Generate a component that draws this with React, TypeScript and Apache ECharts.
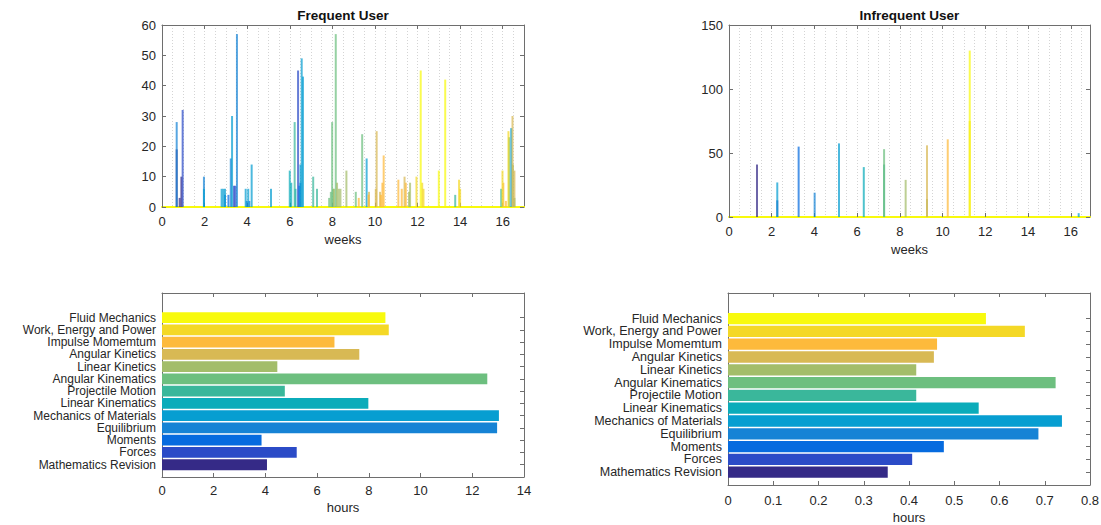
import React, { useEffect, useRef } from "react";
import * as echarts from "echarts";

// ---------- DATA ----------
const topics = [
  "Mathematics Revision",
  "Forces",
  "Moments",
  "Equilibrium",
  "Mechanics of Materials",
  "Linear Kinematics",
  "Projectile Motion",
  "Angular Kinematics",
  "Linear Kinetics",
  "Angular Kinetics",
  "Impulse Momemtum",
  "Work, Energy and Power",
  "Fluid Mechanics",
];

const topicColors = [
  "#352A87", "#2B4BC7", "#066BDF", "#1683D5", "#079ED1", "#0BACBA", "#3AB79B",
  "#6DBF7F", "#A3BD6A", "#D8B954", "#FDBA3C", "#F4D826", "#F8FA0D",
];

// hours per topic (bottom panels)
const hoursFrequent = [4.06, 5.21, 3.85, 12.96, 13.03, 7.98, 4.75, 12.58, 4.46, 7.63, 6.67, 8.77, 8.64];
const hoursInfrequent = [0.353, 0.407, 0.477, 0.686, 0.738, 0.554, 0.416, 0.724, 0.416, 0.455, 0.462, 0.656, 0.57];

// [week, count] pairs per topic, Frequent User
const freqMath = [[0.69, 19], [0.83, 3], [0.91, 10]];
const freqForces = [[0.97, 32], [3.38, 7], [3.45, 7], [6.39, 45]];
const freqMoments = [[2.96, 4], [3.12, 4], [3.98, 2], [4.1, 2], [6.45, 7], [6.5, 8]];
const freqEquilibrium = [[0.69, 28], [1.97, 10], [3.23, 16], [3.52, 57]];
const freqMechanics = [[1.97, 6], [2.8, 6], [2.88, 6], [2.96, 6], [3.29, 30], [3.93, 6], [4.05, 6], [4.21, 14], [5.12, 6], [6.5, 14], [6.56, 49], [6.62, 43], [9.61, 16], [16.4, 26]];
const freqLinKinematics = [[6.0, 12], [6.07, 8], [6.27, 6]];
const freqProjectile = [[6.23, 28], [7.1, 10], [7.28, 6], [13.77, 4], [15.93, 6]];
const freqAngKinematics = [[7.85, 3], [7.93, 5], [7.99, 28], [8.04, 6], [8.16, 57], [9.1, 5], [9.4, 24], [16.3, 23], [16.55, 3]];
const freqLinKinetics = [[8.08, 6], [8.22, 8], [8.3, 6], [8.38, 6], [8.66, 12], [11.6, 5], [11.65, 8], [16.48, 14]];
const freqAngKinetics = [[9.72, 5], [10.04, 6], [10.08, 25], [10.24, 5], [11.39, 10], [16.46, 30], [16.55, 12]];
const freqImpulse = [[9.24, 3], [9.7, 4], [10.28, 4], [10.35, 8], [10.41, 17], [11.1, 9], [11.26, 6], [11.45, 8], [16.03, 8], [16.15, 2]];
const freqWork = [[11.95, 10], [12.22, 8], [12.28, 6], [13.95, 9], [14.0, 6], [15.99, 12], [16.27, 25]];
const freqFluid = [[12.15, 45], [13.0, 12], [13.3, 42]];

// [week, count] pairs per topic, Infrequent User
const infMath = [[1.31, 41]];
const infForces = [[2.26, 13]];
const infMoments = [[3.26, 55]];
const infEquilibrium = [[4.01, 19]];
const infMechanics = [[2.26, 27], [5.15, 57.5], [16.37, 3]];
const infLinKinematics = [[6.31, 39]];
const infProjectile = [[7.26, 41]];
const infAngKinematics = [[7.26, 53]];
const infLinKinetics = [[8.27, 29], [9.27, 14]];
const infAngKinetics = [[9.27, 56]];
const infImpulse = [[10.24, 60.7]];
const infWork = [[11.27, 75]];
const infFluid = [[11.27, 130]];

const freqSeries = [freqMath, freqForces, freqMoments, freqEquilibrium, freqMechanics, freqLinKinematics, freqProjectile, freqAngKinematics, freqLinKinetics, freqAngKinetics, freqImpulse, freqWork, freqFluid];
const infSeries = [infMath, infForces, infMoments, infEquilibrium, infMechanics, infLinKinematics, infProjectile, infAngKinematics, infLinKinetics, infAngKinetics, infImpulse, infWork, infFluid];

// category slots: 0 blank, 1..13 topics, 14..15 blank (ylim 0..15)
const categorySlots = ["", ...topics, "", ""];

// ---------- STYLE ----------
const FONT = "'Liberation Sans', Arial, Helvetica, sans-serif";
const TXT = "#262626";
const LINE = "#6e6e6e";

const grids = [
  { left: 162, top: 25, width: 362, height: 182 },
  { left: 729, top: 25, width: 361, height: 192 },
  { left: 162, top: 293, width: 362, height: 184 },
  { left: 728, top: 293, width: 362, height: 192 },
];

function hiddenLabel() {
  return { show: false };
}

export default function App() {
  const ref = useRef<HTMLDivElement>(null);

  useEffect(() => {
    if (!ref.current) return;
    const chart = echarts.init(ref.current, undefined, { renderer: "svg" });

    const weekAxes = (gridIndex: number, max: number) => [
      {
        type: "value", gridIndex, position: "bottom", min: 0, max, interval: 2,
        name: "weeks", nameLocation: "middle", nameGap: 26,
        nameTextStyle: { color: TXT, fontSize: 13, fontFamily: FONT },
        axisLine: { show: true, onZero: false, lineStyle: { color: "#F8FA0D", width: 2 } },
        axisTick: { show: true, inside: true, length: 4, lineStyle: { color: LINE } },
        axisLabel: { color: TXT, fontSize: 13, fontFamily: FONT, margin: 8, showMaxLabel: false },
        splitLine: { show: false },
      },
      {
        type: "value", gridIndex, position: "top", min: 0, max, interval: 2,
        axisLine: { show: true, onZero: false, lineStyle: { color: LINE } },
        axisTick: { show: true, inside: true, length: 4, lineStyle: { color: LINE } },
        axisLabel: hiddenLabel(),
        splitLine: { show: false },
      },
      {
        type: "value", gridIndex, position: "bottom", min: 0, max, interval: 0.5,
        axisLine: { show: false }, axisTick: { show: false }, axisLabel: hiddenLabel(),
        splitLine: { show: true, lineStyle: { color: "#d4d4d4", type: [1, 2], width: 1 } },
        z: 0,
      },
    ];

    const countAxes = (gridIndex: number, max: number, interval: number) => [
      {
        type: "value", gridIndex, position: "left", min: 0, max, interval,
        axisLine: { show: true, onZero: false, lineStyle: { color: LINE } },
        axisTick: { show: true, inside: true, length: 4, lineStyle: { color: LINE } },
        axisLabel: { color: TXT, fontSize: 13, fontFamily: FONT, margin: 6 },
        splitLine: { show: false },
      },
      {
        type: "value", gridIndex, position: "right", min: 0, max, interval,
        axisLine: { show: true, onZero: false, lineStyle: { color: LINE } },
        axisTick: { show: true, inside: true, length: 4, lineStyle: { color: LINE } },
        axisLabel: hiddenLabel(),
        splitLine: { show: false },
      },
    ];

    const hourAxes = (gridIndex: number, max: number, interval: number, gap: number, margin: number) => [
      {
        type: "value", gridIndex, position: "bottom", min: 0, max, interval,
        name: "hours", nameLocation: "middle", nameGap: gap,
        nameTextStyle: { color: TXT, fontSize: 13, fontFamily: FONT },
        axisLine: { show: true, onZero: false, lineStyle: { color: LINE } },
        axisTick: { show: true, inside: true, length: 4, lineStyle: { color: LINE } },
        axisLabel: { color: TXT, fontSize: 13, fontFamily: FONT, margin },
        splitLine: { show: false },
      },
      {
        type: "value", gridIndex, position: "top", min: 0, max, interval,
        axisLine: { show: true, onZero: false, lineStyle: { color: LINE } },
        axisTick: { show: true, inside: true, length: 4, lineStyle: { color: LINE } },
        axisLabel: hiddenLabel(),
        splitLine: { show: false },
      },
    ];

    const tickOnTopic = (idx: number) => idx >= 1 && idx <= topics.length;
    const topicAxes = (gridIndex: number, fontSize: number) => [
      {
        type: "category", gridIndex, position: "left", data: categorySlots, boundaryGap: false,
        axisLine: { show: true, onZero: false, lineStyle: { color: LINE } },
        axisTick: { show: true, inside: true, length: 4, interval: tickOnTopic, lineStyle: { color: LINE } },
        axisLabel: { color: TXT, fontSize, lineHeight: fontSize, fontFamily: FONT, margin: 6, interval: 0 },
        splitLine: { show: false },
      },
      {
        type: "category", gridIndex, position: "right", data: categorySlots, boundaryGap: false,
        axisLine: { show: true, onZero: false, lineStyle: { color: LINE } },
        axisTick: { show: true, inside: true, length: 4, interval: tickOnTopic, lineStyle: { color: LINE } },
        axisLabel: hiddenLabel(),
        splitLine: { show: false },
      },
    ];

    const xAxis = [
      ...weekAxes(0, 17),              // 0,1,2
      ...weekAxes(1, 16.9),            // 3,4,5
      ...hourAxes(2, 14, 2, 24, 7),    // 6,7
      ...hourAxes(3, 0.8, 0.1, 26, 9), // 8,9
    ];
    const yAxis = [
      ...countAxes(0, 60, 10),   // 0,1
      ...countAxes(1, 150, 50),  // 2,3
      ...topicAxes(2, 12),       // 4,5
      ...topicAxes(3, 12.5),     // 6,7
    ];

    const spikeSeries = (list: number[][][], xi: number, yi: number) =>
      list.map((data, i) => ({
        type: "bar",
        name: topics[i],
        xAxisIndex: xi,
        yAxisIndex: yi,
        data,
        barWidth: 2,
        barGap: "-100%",
        silent: true,
        itemStyle: { color: topicColors[i], opacity: 0.72 },
        z: 3,
      }));

    const hourSeries = (vals: number[], xi: number, yi: number) => ({
      type: "bar",
      xAxisIndex: xi,
      yAxisIndex: yi,
      barWidth: "88%",
      silent: true,
      data: categorySlots.map((_, k) =>
        k >= 1 && k <= vals.length
          ? { value: vals[k - 1], itemStyle: { color: topicColors[k - 1] } }
          : "-"
      ),
      z: 3,
    });

    chart.setOption({
      animation: false,
      textStyle: { fontFamily: FONT },
      grid: grids.map((g) => ({ ...g, containLabel: false, outerBoundsMode: "none" })),
      xAxis,
      yAxis,
      graphic: [
        {
          type: "text", x: 343, y: 15,
          style: { text: "Frequent User", fontSize: 13.5, fontWeight: "bold", fontFamily: FONT, fill: "#111", textAlign: "center", textVerticalAlign: "middle" },
        },
        {
          type: "text", x: 909.5, y: 15,
          style: { text: "Infrequent User", fontSize: 13.5, fontWeight: "bold", fontFamily: FONT, fill: "#111", textAlign: "center", textVerticalAlign: "middle" },
        },
      ],
      series: [
        ...spikeSeries(freqSeries, 0, 0),
        ...spikeSeries(infSeries, 3, 2),
        hourSeries(hoursFrequent, 6, 4),
        hourSeries(hoursInfrequent, 8, 6),
      ],
    });

    return () => chart.dispose();
  }, []);

  return (
    <div
      ref={ref}
      style={{ position: "absolute", left: 0, top: 0, width: 1101, height: 525, background: "#fff" }}
    />
  );
}
